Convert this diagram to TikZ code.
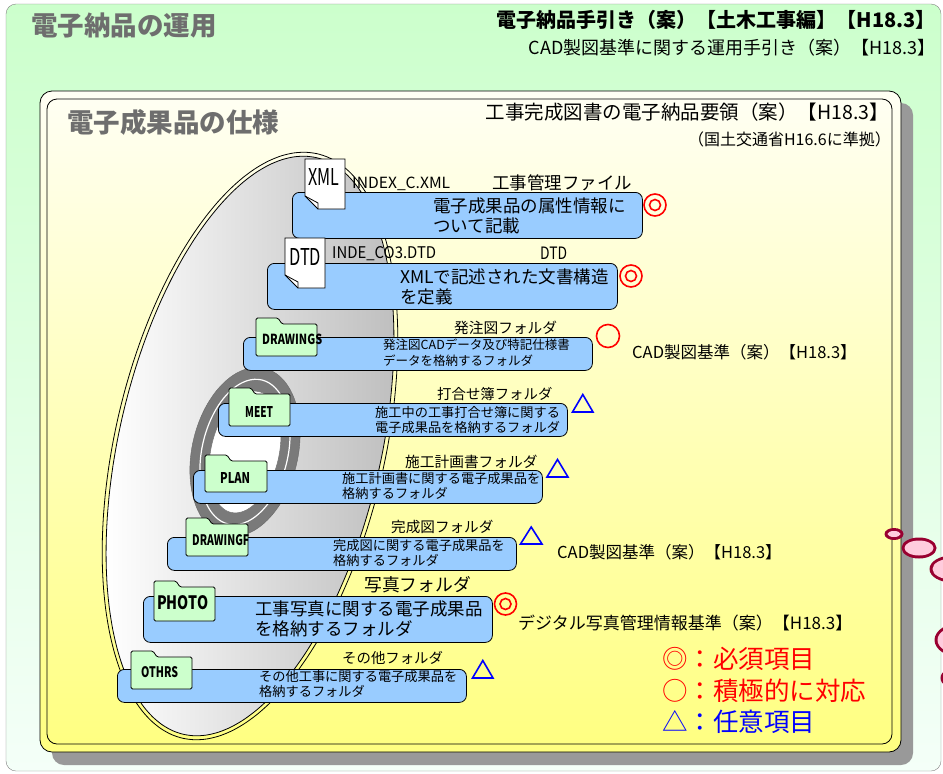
\documentclass[tikz,border=0pt]{standalone}
\usepackage{fontspec}
\usepackage{graphicx}
\setmainfont{Noto Sans CJK JP}

\definecolor{frameG}{HTML}{CCFFCC}
\definecolor{frameW}{HTML}{F4FFF8}
\definecolor{boxY1}{HTML}{FFFFF4}
\definecolor{boxY2}{HTML}{FFFF80}
\definecolor{shadowG}{HTML}{999999}
\definecolor{itemB}{HTML}{99CCFF}
\definecolor{folderG}{HTML}{CCFFCC}
\definecolor{titleG}{HTML}{6E6E6E}
\definecolor{markR}{HTML}{FF0000}
\definecolor{markB}{HTML}{0000FF}
\definecolor{bubRim}{HTML}{990030}
\definecolor{bubFill}{HTML}{FFCCDD}
\definecolor{hubG}{HTML}{7A7A7A}

% condensed Latin label: width, cap height, text
\newcommand{\sqz}[3]{\resizebox{#1pt}{#2pt}{#3}}
% ellipse tilted 77 degrees: centre x, centre y, major, minor radius
\newcommand{\tellipse}[4]{plot[smooth cycle, domain=0:355, samples=72]
  ({#1+0.225*#3*cos(\x)-0.974*#4*sin(\x)},{#2-0.974*#3*cos(\x)-0.225*#4*sin(\x)})}
% document icon with turned corner: x0 y0 x1 y1
\newcommand{\docicon}[4]{%
  \filldraw[fill=white, line width=0.8pt] (#1,#2) -- (#3,#2) -- (#3,#4) -- ({#1+13},#4) -- (#1,{#4-13}) -- cycle;
  \draw[line width=0.8pt] (#1,{#4-13}) -- ({#1+13},{#4-6}) -- ({#1+13},#4);}
% folder icon: x0, tab top, x1, bottom
\newcommand{\foldericon}[4]{%
  \filldraw[fill=folderG, line width=0.8pt, rounded corners=1.5pt] (#1,#4) -- (#1,#2) -- ({#1+22},#2) -- ({#1+26},{#2+6}) -- (#3,{#2+6}) -- (#3,#4) -- cycle;}

\tikzset{
  itembox/.style={draw, fill=itemB, rounded corners=7pt, line width=0.8pt, anchor=north west, inner sep=0pt},
  txt/.style={anchor=west, inner sep=0pt, align=left},
  lbl/.style={anchor=base west, inner sep=0pt},
  ringmark/.style={markR, line width=1.6pt},
  trimark/.style={markB, line width=1.6pt, line join=miter},
}

\begin{document}
\begin{tikzpicture}[x=1pt, y=-1pt]
\useasboundingbox (0,0) rectangle (943,774);
\clip (0,0) rectangle (943,774);

% outer frame
\draw[rounded corners=10pt, draw=gray, top color=frameG, bottom color=frameW] (6,4) rectangle (941,771);
\node[anchor=west, inner sep=0pt, text=titleG, font=\bfseries\fontsize{26.5}{28}\selectfont] (tUse) at (31,25) {電子納品の運用};
\node[anchor=east, inner sep=0pt, font=\bfseries\fontsize{20}{22}\selectfont] (hGuide) at (936,20) {電子納品手引き（案）【土木工事編】【H18.3】};
\node[anchor=east, inner sep=0pt, font=\fontsize{18}{20}\selectfont] (hCad) at (936,48) {CAD製図基準に関する運用手引き（案）【H18.3】};

% specification panel
\fill[shadowG, rounded corners=12pt] (52,103) rectangle (913,765);
\draw[line width=0.8pt, rounded corners=12pt, top color=boxY1, bottom color=boxY2] (40,91) rectangle (901,752);
\draw[line width=0.8pt, rounded corners=10pt] (47,99) rectangle (892,744);
\node[anchor=west, inner sep=0pt, text=titleG, font=\bfseries\fontsize{26.5}{28}\selectfont] (tSpec) at (67,122) {電子成果品の仕様};
\node[anchor=east, inner sep=0pt, font=\fontsize{19.5}{21}\selectfont] (hSpec) at (889,112) {工事完成図書の電子納品要領（案）【H18.3】};
\node[anchor=east, inner sep=0pt, font=\fontsize{16}{18}\selectfont] (hBase) at (891,139) {（国土交通省H16.6に準拠）};

% disc
\draw[line width=0.8pt] \tellipse{250}{446}{300}{135};
\draw[line width=0.8pt, left color=white, right color=black!25] \tellipse{250}{446}{296}{131};
\draw[hubG!85!black, fill=hubG] \tellipse{245}{452}{86}{53};
\draw[white, line width=1.2pt] \tellipse{245}{452}{74}{43};
\draw[hubG!85!black, fill=white] \tellipse{245}{452}{62}{34};

% item boxes
\node[itembox, minimum width=350pt, minimum height=46pt] (bXml) at (292,192) {};
\node[itembox, minimum width=350pt, minimum height=46pt] (bDtd) at (267,263) {};
\node[itembox, minimum width=349pt, minimum height=33pt] (bDrw) at (243,337) {};
\node[itembox, minimum width=349pt, minimum height=33pt] (bMeet) at (218,403) {};
\node[itembox, minimum width=349pt, minimum height=33pt] (bPlan) at (193,470) {};
\node[itembox, minimum width=349pt, minimum height=33pt] (bDrf) at (167,537) {};
\node[itembox, minimum width=349pt, minimum height=46pt] (bPhoto) at (143,596) {};
\node[itembox, minimum width=349pt, minimum height=33pt] (bOthr) at (117,669) {};

% icons
\docicon{305}{159}{345}{209}
\docicon{285}{238}{325}{288}
\foldericon{256}{318}{317}{356}
\foldericon{229}{388}{290}{426}
\foldericon{205}{455}{267}{492}
\foldericon{186}{518}{248}{556}
\foldericon{154}{581}{215}{621}
\foldericon{131}{651}{192}{689}

\node[lbl] (iXml) at (308,185) {\sqz{31}{17}{XML}};
\node[lbl] (iDtd) at (289,265) {\sqz{32}{17}{DTD}};
\node[lbl] (iDrw) at (262,344) {\sqz{60}{10.5}{\bfseries DRAWINGS}};
\node[lbl] (iMeet) at (245,417) {\sqz{28}{11}{\bfseries MEET}};
\node[lbl] (iPlan) at (220,483) {\sqz{30}{11}{\bfseries PLAN}};
\node[lbl] (iDrf) at (192,545) {\sqz{57}{11}{\bfseries DRAWINGF}};
\node[lbl] (iPhoto) at (157,609) {\sqz{51}{14}{\bfseries PHOTO}};
\node[lbl] (iOthr) at (141,677) {\sqz{37}{11}{\bfseries OTHRS}};

% file names and captions
\node[lbl] (fXml) at (352,188) {\sqz{98}{11.5}{INDEX\_C.XML}};
\node[lbl] (fDtd) at (332,258) {\sqz{104}{12}{INDE\_CO3.DTD}};
\node[txt, font=\fontsize{17.5}{19}\selectfont] (cXml) at (492,183) {工事管理ファイル};
\node[lbl] (cDtd) at (540,259) {\sqz{27}{12.5}{DTD}};
\node[txt, font=\fontsize{14.7}{16}\selectfont] (cDrw) at (454,328) {発注図フォルダ};
\node[txt, font=\fontsize{14.4}{16}\selectfont] (cMeet) at (437,394) {打合せ簿フォルダ};
\node[txt, font=\fontsize{14.7}{16}\selectfont] (cPlan) at (405,462) {施工計画書フォルダ};
\node[txt, font=\fontsize{14.6}{16}\selectfont] (cDrf) at (391,527) {完成図フォルダ};
\node[txt, font=\fontsize{17.8}{19}\selectfont] (cPhoto) at (364,585) {写真フォルダ};
\node[txt, font=\fontsize{14.4}{16}\selectfont] (cOthr) at (342,658) {その他フォルダ};

% box texts
\node[txt, font=\fontsize{17.5}{19.5}\selectfont] (dXml) at (433,216) {電子成果品の属性情報に\\ついて記載};
\node[txt, font=\fontsize{17.5}{20}\selectfont] (dDtd) at (400,287) {XMLで記述された文書構造\\を定義};
\node[txt, font=\fontsize{12.5}{16}\selectfont] (dDrw) at (383,353) {発注図CADデータ及び特記仕様書\\データを格納するフォルダ};
\node[txt, font=\fontsize{13.2}{15}\selectfont] (dMeet) at (375,420) {施工中の工事打合せ簿に関する\\電子成果品を格納するフォルダ};
\node[txt, font=\fontsize{13.2}{15}\selectfont] (dPlan) at (342,486) {施工計画書に関する電子成果品を\\格納するフォルダ};
\node[txt, font=\fontsize{13.2}{14.5}\selectfont] (dDrf) at (333,553) {完成図に関する電子成果品を\\格納するフォルダ};
\node[txt, font=\fontsize{17.5}{20.5}\selectfont] (dPhoto) at (255,619) {工事写真に関する電子成果品\\を格納するフォルダ};
\node[txt, font=\fontsize{13.2}{15}\selectfont] (dOthr) at (259,684) {その他工事に関する電子成果品を\\格納するフォルダ};

% standards
\node[txt, font=\fontsize{16.5}{18}\selectfont] (sCad1) at (632,352) {CAD製図基準（案）【H18.3】};
\node[txt, font=\fontsize{16.5}{18}\selectfont] (sCad2) at (557,552) {CAD製図基準（案）【H18.3】};
\node[txt, font=\fontsize{17}{19}\selectfont] (sPhoto) at (518,623) {デジタル写真管理情報基準（案）【H18.3】};

% marks
\draw[ringmark] (655,205) circle (11) (655,205) circle (5.5);
\draw[ringmark] (631,276) circle (11) (631,276) circle (5.5);
\draw[ringmark] (608,336) circle (11.5);
\draw[trimark] (572.5,412) -- (593,412) -- (582.8,394.5) -- cycle;
\draw[trimark] (547,477) -- (568,477) -- (557.5,459.5) -- cycle;
\draw[trimark] (520.5,544) -- (542,544) -- (531.2,527) -- cycle;
\draw[ringmark] (505.5,604) circle (11) (505.5,604) circle (5.5);
\draw[trimark] (472.5,678) -- (493,678) -- (482.8,660.5) -- cycle;

% legend
\node[txt, text=markR, font=\fontsize{25.5}{27}\selectfont] (lg1) at (662,659) {◎：必須項目};
\node[txt, text=markR, font=\fontsize{25.5}{27}\selectfont] (lg2) at (662,691) {○：積極的に対応};
\node[txt, text=markB, font=\fontsize{25.5}{27}\selectfont] (lg3) at (662,722) {△：任意項目};

% bubbles at the right edge
\fill[bubRim] (894,534) ellipse [x radius=9.5pt, y radius=6pt];
\fill[bubFill] (894,534) ellipse [x radius=6.5pt, y radius=3pt];
\fill[bubRim] (919,548) ellipse [x radius=17.5pt, y radius=10.5pt];
\fill[bubFill] (919,548) ellipse [x radius=14.5pt, y radius=7.5pt];
\fill[bubRim] (952,569) ellipse [x radius=22.5pt, y radius=13.5pt];
\fill[bubFill] (952,569) ellipse [x radius=19.5pt, y radius=10.5pt];
\fill[bubRim] (962,640) ellipse [x radius=27.5pt, y radius=17.5pt];
\fill[bubFill] (962,640) ellipse [x radius=24.5pt, y radius=14.5pt];
\fill[bubRim] (962,678) ellipse [x radius=21.5pt, y radius=12.5pt];
\fill[bubFill] (962,678) ellipse [x radius=18.5pt, y radius=9.5pt];
\end{tikzpicture}
\end{document}
